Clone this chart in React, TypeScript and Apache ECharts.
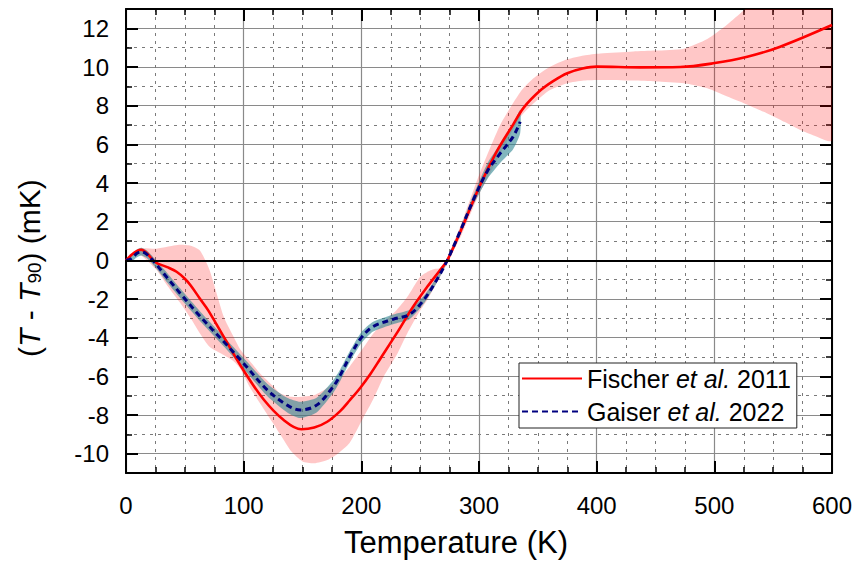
import React, { useEffect, useRef } from "react";
import * as echarts from "echarts";

// ---- Data ----
const F_NAME = "Fischer et al. 2011";
const G_NAME = "Gaiser et al. 2022";

// Fischer et al. 2011 curve (T in K, deviation in mK)
const fischerT = [0, 5, 10, 13, 18, 25, 35, 43, 50, 55, 63, 70, 83, 100, 117, 134, 149, 160, 171, 182, 190, 199, 208, 216, 230, 244, 256, 267, 273, 285, 301, 315, 329, 338, 352, 363, 375, 388, 400, 437, 471, 499, 528, 556, 600];
const fischerV = [0, 0.3, 0.5, 0.55, 0.35, -0.1, -0.35, -0.59, -0.95, -1.3, -2.0, -2.6, -3.95, -5.7, -7.2, -8.26, -8.74, -8.65, -8.35, -7.8, -7.25, -6.6, -5.85, -5.1, -3.78, -2.4, -1.37, -0.5, 0, 1.6, 3.9, 5.62, 7.02, 7.9, 8.78, 9.27, 9.68, 9.92, 10.02, 9.98, 10.0, 10.19, 10.53, 11.05, 12.17];

// Fischer uncertainty band
const fBandT = [0, 10, 26, 35, 46, 55, 63, 71, 83, 91, 97, 105, 114, 125, 131, 140, 150, 160, 171, 180, 190, 202, 210, 219, 230, 239, 250, 256, 262, 267, 273, 285, 300, 318, 335, 346, 360, 375, 389, 403, 431, 450, 474, 494, 511, 530, 545, 560, 573, 585, 600];
const fBandUpper = [0, 0.6, 0.6, 0.7, 0.8, 0.75, 0.5, -0.5, -2.9, -3.9, -4.6, -5.2, -5.85, -6.5, -6.88, -7.06, -7.05, -6.97, -6.6, -6.2, -5.5, -4.5, -3.8, -3.2, -2.57, -1.9, -0.85, -0.6, -0.45, -0.4, 0.15, 1.9, 4.4, 7.0, 8.7, 9.4, 10.0, 10.4, 10.6, 10.7, 10.8, 10.85, 10.95, 11.45, 12.2, 13.2, 14.0, 14.7, 15.2, 15.7, 16.2];
const fBandLower = [0, 0.35, -0.5, -1.3, -2.2, -3.0, -3.8, -4.47, -4.9, -5.2, -5.6, -6.54, -7.4, -8.43, -9.0, -9.85, -10.4, -10.5, -10.33, -10.0, -9.45, -8.1, -7.2, -6.02, -4.9, -3.78, -2.6, -2.05, -1.4, -0.85, -0.15, 1.3, 3.4, 5.5, 7.4, 8.1, 8.8, 9.16, 9.3, 9.33, 9.3, 9.25, 9.16, 8.9, 8.47, 8.0, 7.6, 7.15, 6.74, 6.45, 6.2];

// Gaiser et al. 2022 curve and band half-width
const gaiserT = [0, 5, 9, 13, 18, 25, 35, 46, 63, 83, 100, 120, 137, 148, 162, 176, 182, 190, 200, 210, 227, 241, 253, 264, 273, 284, 295, 307, 318, 329, 335];
const gaiserV = [0, 0.1, 0.35, 0.45, 0.3, -0.16, -0.9, -1.7, -2.9, -4.2, -5.33, -6.7, -7.49, -7.74, -7.49, -6.54, -5.95, -5.0, -4.0, -3.43, -3.05, -2.8, -2.05, -1.02, 0, 1.5, 3.1, 4.6, 5.53, 6.4, 7.17];
const gaiserHalfWidth = [0.05, 0.15, 0.2, 0.2, 0.2, 0.2, 0.25, 0.25, 0.25, 0.25, 0.28, 0.32, 0.38, 0.42, 0.38, 0.32, 0.3, 0.28, 0.28, 0.25, 0.25, 0.25, 0.2, 0.15, 0.1, 0.15, 0.25, 0.4, 0.5, 0.65, 0.6];

// Axis ticks
const xTicks = [0, 100, 200, 300, 400, 500, 600];
const yMajor = [-10, -8, -6, -4, -2, 0, 2, 4, 6, 8, 10, 12];
const yMinor = [-11, -9, -7, -5, -3, -1, 1, 3, 5, 7, 9, 11, 13];
const zeroLine = [0];

const FONT = "'Liberation Sans', Arial, Helvetica, sans-serif";

export default function App() {
  const ref = useRef<HTMLDivElement>(null);

  useEffect(() => {
    if (!ref.current) return;
    const chart = echarts.init(ref.current, null, { renderer: "svg" });

    const zip = (xs: number[], ys: number[]) => xs.map((x, i) => [x, ys[i]]);
    const fBandRows = fBandT.map((x, i) => [x, fBandLower[i], fBandUpper[i]]);
    const gBandRows = gaiserT.map((x, i) => [x, gaiserV[i] - gaiserHalfWidth[i], gaiserV[i] + gaiserHalfWidth[i]]);

    const bandSeries = (name: string, rows: number[][], fill: string, z: number) => ({
      name,
      type: "custom",
      data: rows,
      clip: true,
      silent: true,
      z,
      encode: { x: 0, y: [1, 2] },
      renderItem: (params: any, api: any) => {
        if (params.dataIndex !== 0) return null;
        const top = rows.map((r) => api.coord([r[0], r[2]]));
        const bottom = rows.map((r) => api.coord([r[0], r[1]])).reverse();
        const cs = params.coordSys;
        return {
          type: "polygon",
          shape: { points: top.concat(bottom), smooth: 0.2 },
          style: { fill, stroke: "none" },
          clipPath: { type: "rect", shape: { x: cs.x, y: cs.y, width: cs.width, height: cs.height } },
        };
      },
    });

    const majorSplit = { show: true, lineStyle: { color: "#8a8a8a", width: 1.2, type: "solid" } };
    const minorSplit = { show: true, lineStyle: { color: "#7a7a7a", width: 1, type: [3, 5] } };
    const axisLineBlack = { show: true, onZero: false, lineStyle: { color: "#000", width: 2 } };

    const baseX = {
      type: "value",
      min: 0,
      max: 600,
      interval: 100,
      axisLine: axisLineBlack,
      axisTick: { show: true, inside: true, length: 12, lineStyle: { color: "#000", width: 2 } },
      minorTick: { show: true, splitNumber: 4, length: 6, lineStyle: { color: "#000", width: 1.5 } },
    };

    const option: any = {
      animation: false,
      backgroundColor: "#fff",
      grid: { left: 126, right: 25, top: 9, bottom: 95, containLabel: false },
      xAxis: [
        {
          ...baseX,
          position: "bottom",
          axisLabel: { show: true, fontSize: 24, color: "#000", fontFamily: FONT, margin: 20, customValues: xTicks },
          splitLine: majorSplit,
          minorSplitLine: minorSplit,
        },
        {
          ...baseX,
          position: "top",
          axisLabel: { show: false },
          splitLine: { show: false },
          minorSplitLine: { show: false },
        },
      ],
      yAxis: [
        {
          type: "value",
          position: "left",
          min: -11,
          max: 13,
          axisLine: axisLineBlack,
          axisTick: { show: true, inside: true, length: 12, customValues: yMajor, lineStyle: { color: "#000", width: 2 } },
          axisLabel: { show: true, customValues: yMajor, fontSize: 24, color: "#000", fontFamily: FONT, margin: 17 },
          splitLine: majorSplit,
        },
        {
          type: "value",
          position: "left",
          min: -11,
          max: 13,
          axisLine: { show: false, onZero: false },
          axisTick: { show: true, inside: true, length: 6, customValues: yMinor, lineStyle: { color: "#000", width: 1.5 } },
          axisLabel: { show: false, customValues: yMinor },
          splitLine: minorSplit,
        },
        {
          type: "value",
          position: "right",
          min: -11,
          max: 13,
          axisLine: axisLineBlack,
          axisTick: { show: true, inside: true, length: 12, customValues: yMajor, lineStyle: { color: "#000", width: 2 } },
          axisLabel: { show: false, customValues: yMajor },
          splitLine: { show: false },
        },
        {
          type: "value",
          position: "right",
          min: -11,
          max: 13,
          axisLine: { show: false, onZero: false },
          axisTick: { show: true, inside: true, length: 6, customValues: yMinor, lineStyle: { color: "#000", width: 1.5 } },
          axisLabel: { show: false, customValues: yMinor },
          splitLine: { show: false },
        },
      ],
      legend: {
        data: [F_NAME, G_NAME],
        orient: "vertical",
        left: 519,
        top: 363,
        itemWidth: 60,
        itemHeight: 14,
        itemGap: 8,
        padding: [3, 6, 4, 2],
        borderColor: "#222",
        borderWidth: 1,
        borderRadius: 0,
        backgroundColor: "#fff",
        itemStyle: { opacity: 0 },
        textStyle: {
          fontSize: 25,
          color: "#000",
          fontFamily: FONT,
          rich: {
            n: { fontSize: 25, fontFamily: FONT, color: "#000", lineHeight: 25 },
            i: { fontSize: 25, fontFamily: FONT, color: "#000", fontStyle: "italic", lineHeight: 25 },
          },
        },
        formatter: (name: string) => {
          const parts = name.split("et al.");
          return `{n|${parts[0]}}{i|et al.}{n|${parts[1]}}`;
        },
      },
      series: [
        bandSeries("Fischer band", fBandRows, "rgba(255,0,0,0.22)", 1),
        bandSeries("Gaiser band", gBandRows, "rgba(47,133,145,0.6)", 2),
        {
          name: F_NAME,
          type: "line",
          data: zip(fischerT, fischerV),
          symbol: "none",
          smooth: 0.35,
          lineStyle: { color: "#ff0000", width: 2.6 },
          itemStyle: { color: "#ff0000" },
          z: 3,
          markLine: {
            silent: true,
            symbol: "none",
            label: { show: false },
            lineStyle: { color: "#000", width: 2, type: "solid" },
            data: zeroLine.map((v) => ({ yAxis: v })),
          },
        },
        {
          name: G_NAME,
          type: "line",
          data: zip(gaiserT, gaiserV),
          symbol: "none",
          smooth: 0.35,
          lineStyle: { color: "#000080", width: 3, type: [6, 4] },
          itemStyle: { color: "#000080" },
          z: 4,
        },
      ],
      graphic: [
        {
          type: "text",
          x: 456,
          y: 527,
          style: {
            text: "Temperature (K)",
            fontSize: 31,
            fontFamily: FONT,
            fill: "#000",
            textAlign: "center",
            textVerticalAlign: "top",
          },
        },
        {
          type: "text",
          x: 29,
          y: 268,
          rotation: Math.PI / 2,
          style: {
            text: "{n|(}{i|T}{n| - }{i|T}{s|90}{n|) (mK)}",
            fontSize: 30,
            fontFamily: FONT,
            fill: "#000",
            textAlign: "center",
            textVerticalAlign: "middle",
            rich: {
              n: { fontSize: 30, fontFamily: FONT, fill: "#000", lineHeight: 30 },
              i: { fontSize: 30, fontFamily: FONT, fill: "#000", fontStyle: "italic", lineHeight: 30 },
              s: { fontSize: 19, fontFamily: FONT, fill: "#000", lineHeight: 12, verticalAlign: "bottom" },
            },
          },
        },
      ],
    };

    chart.setOption(option);
    return () => chart.dispose();
  }, []);

  return (
    <div
      ref={ref}
      style={{ position: "fixed", left: 0, top: 0, width: 857, height: 568, background: "#fff" }}
    />
  );
}
